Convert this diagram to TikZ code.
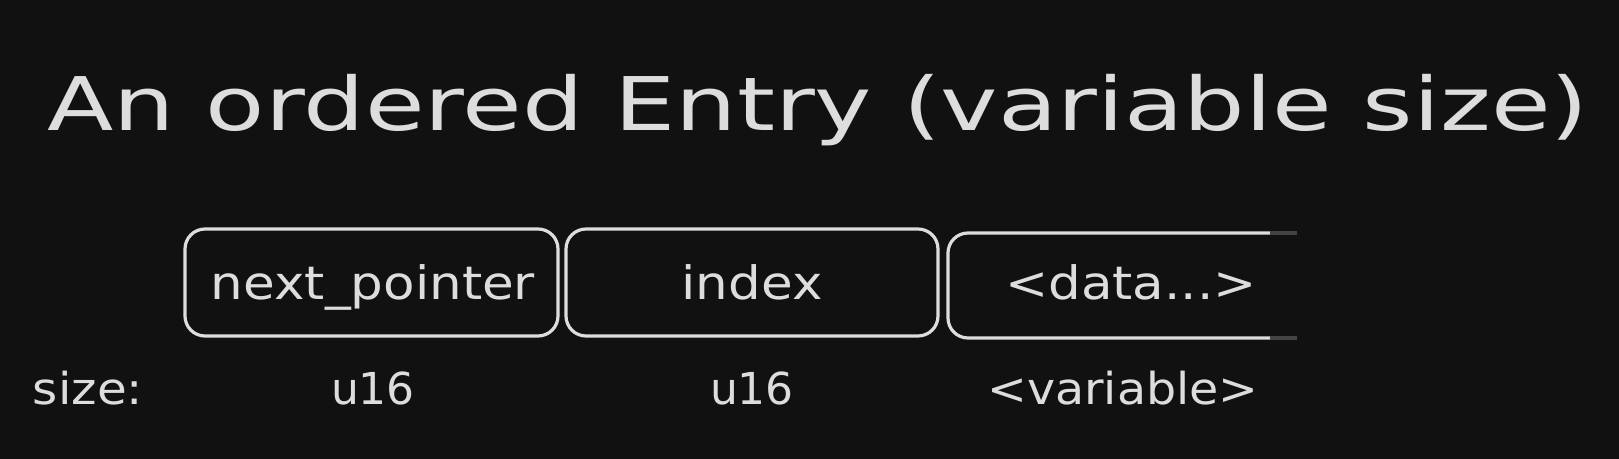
\documentclass[tikz,border=0pt]{standalone}
\usepackage{fontspec}
\setmainfont{DejaVu Sans}
\definecolor{bg}{HTML}{111111}
\definecolor{ink}{HTML}{DDDDDD}
\definecolor{fade}{HTML}{444444}
\newcommand{\wideA}[1]{\scalebox{1.12}[1]{#1}}
\newcommand{\wideB}[1]{\scalebox{1.0}[1]{#1}}
\newcommand{\wideT}[1]{\scalebox{1.31}[1]{#1}}
\begin{document}
\begin{tikzpicture}[x=0.5pt,y=-0.5pt,
  box/.style={draw=ink,line width=1.6pt,rounded corners=10pt},
  lbl/.style={text=ink,anchor=base,inner sep=0pt,font=\fontsize{23}{27}\selectfont},
  szl/.style={text=ink,anchor=base,inner sep=0pt,font=\fontsize{22}{26}\selectfont},
  ttl/.style={text=ink,anchor=base,inner sep=0pt,font=\fontsize{37}{44}\selectfont}]
\fill[bg] (0,0) rectangle (1619,459);
\useasboundingbox (0,0) rectangle (1619,459);
\node[ttl] (title) at (818,131) {\wideT{An ordered Entry (variable size)}};
\draw[box] (185,229) rectangle (558,336);
\draw[box] (566,229) rectangle (938,336);
\draw[box] (1270,233) -- (948,233) -- (948,338) -- (1270,338);
\draw[draw=fade,line width=1.8pt] (1270,233) -- (1297,233);
\draw[draw=fade,line width=1.8pt] (1270,338) -- (1297,338);
\node[lbl] (np) at (373,300) {\wideA{next\_pointer}};
\node[lbl] (ix) at (752,300) {\wideA{index}};
\node[lbl] (dt) at (1131,300) {\wideA{<data...>}};
\node[szl] (sz) at (88,405) {\scalebox{1.1}[1]{size:}};
\node[szl] (s1) at (373,405) {\wideB{u16}};
\node[szl] (s2) at (752,405) {\wideB{u16}};
\node[szl] (s3) at (1123,405) {\scalebox{1.08}[1]{<variable>}};
\end{tikzpicture}
\end{document}
